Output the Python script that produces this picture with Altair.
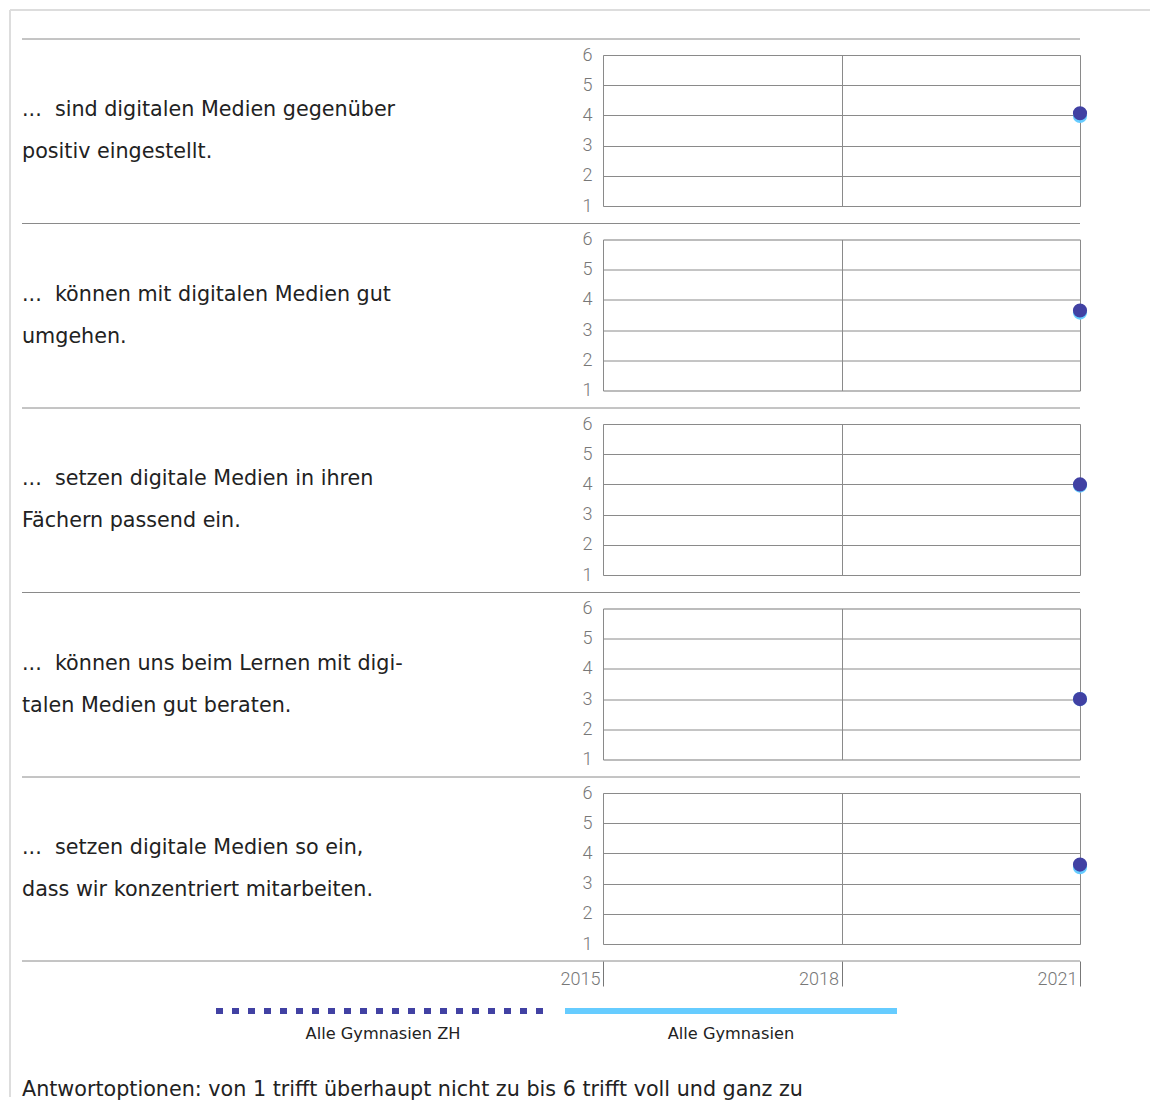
import altair as alt
import pandas as pd

# ---- data ----
row_labels = [
    "...\u00a0 sind digitalen Medien gegenüber\npositiv eingestellt.",
    "...\u00a0 können mit digitalen Medien gut\numgehen.",
    "...\u00a0 setzen digitale Medien in ihren\nFächern passend ein.",
    "...\u00a0 können uns beim Lernen mit digi-\ntalen Medien gut beraten.",
    "...\u00a0 setzen digitale Medien so ein,\ndass wir konzentriert mitarbeiten.",
]
year_ticks = [2015, 2018, 2021]
survey_year = 2021
zh_values = [4.07, 3.65, 4.0, 3.0, 3.63]      # Alle Gymnasien ZH
all_values = [3.98, 3.58, 3.96, 3.0, 3.54]    # Alle Gymnasien
series_names = ["Alle Gymnasien ZH", "Alle Gymnasien"]
series_colors = ["#4141A3", "#66CCFF"]
note = "Antwortoptionen: von 1 trifft überhaupt nicht zu bis 6 trifft voll und ganz zu"

FONT = "Roboto"
TFONT = "DejaVu Sans"
W, H = 477, 151
GRID = "#8a8a8a"
TXT = "#222222"

dummy = pd.DataFrame({"k": [0]})


def hrule(x1, x2, y, color=GRID, width=1, dash=None):
    kw = dict(color=color, strokeWidth=width)
    if dash:
        kw["strokeDash"] = dash
        kw["strokeCap"] = "butt"
    return alt.Chart(dummy).mark_rule(**kw).encode(
        x=alt.value(x1), x2=alt.value(x2), y=alt.value(y)
    )


def row_chart(i, last, first):
    pts = pd.DataFrame({
        "year": [survey_year, survey_year],
        "value": [all_values[i], zh_values[i]],
        "series": [series_names[1], series_names[0]],
        "ord": [0, 1],
    })
    if last:
        xaxis = alt.Axis(values=year_ticks, grid=True, gridColor=GRID, domain=False,
                         ticks=True, tickSize=25, tickColor="#777", offset=17,
                         labelAlign="right", labelBaseline="top", labelPadding=-16,
                         labelOffset=-3, labelFlush=False, labelFontSize=18,
                         labelColor="#777", labelFontWeight=300, title=None,
                         format="d")
    else:
        xaxis = alt.Axis(values=year_ticks, grid=True, gridColor=GRID, domain=False,
                         ticks=False, labels=False, title=None)
    yaxis = alt.Axis(values=[1, 2, 3, 4, 5, 6], grid=True, gridColor=GRID, domain=False,
                     ticks=False, labelPadding=11, labelFontSize=18, labelColor="#777",
                     labelFontWeight=300, title=None)
    points = alt.Chart(pts).mark_circle(size=200, opacity=1).encode(
        x=alt.X("year:Q", scale=alt.Scale(domain=[2015, 2021], nice=False, zero=False), axis=xaxis),
        y=alt.Y("value:Q", scale=alt.Scale(domain=[1, 6], nice=False, zero=False), axis=yaxis),
        color=alt.Color("series:N", scale=alt.Scale(domain=series_names, range=series_colors), legend=None),
        order=alt.Order("ord:Q"),
    )
    label = alt.Chart(pd.DataFrame({"t": [row_labels[i]]})).mark_text(
        align="left", baseline="middle", lineBreak="\n", lineHeight=42,
        fontSize=20.7, font=TFONT, color=TXT
    ).encode(x=alt.value(-581), y=alt.value(55), text="t:N")

    layers = [hrule(-581, W, -16), label, points]
    if first:
        layers += [
            hrule(-593, 547, -45, color="#dddddd", width=2),
            alt.Chart(dummy).mark_rule(color="#dddddd", strokeWidth=2).encode(
                x=alt.value(-593), y=alt.value(-45), y2=alt.value(1042)),
        ]
    if last:
        layers += [
            hrule(-581, W, H + 17),
            hrule(-387, -58, H + 67, color=series_colors[0], width=6, dash=[7, 9]),
            hrule(-38, 294, H + 67, color=series_colors[1], width=6),
            alt.Chart(pd.DataFrame({"t": [series_names[0]]})).mark_text(
                align="center", baseline="middle", fontSize=16.2, font=TFONT, color=TXT
            ).encode(x=alt.value(-220), y=alt.value(H + 90), text="t:N"),
            alt.Chart(pd.DataFrame({"t": [series_names[1]]})).mark_text(
                align="center", baseline="middle", fontSize=16.2, font=TFONT, color=TXT
            ).encode(x=alt.value(128), y=alt.value(H + 90), text="t:N"),
            alt.Chart(pd.DataFrame({"t": [note]})).mark_text(
                align="left", baseline="middle", fontSize=20.7, font=TFONT, color=TXT
            ).encode(x=alt.value(-581), y=alt.value(H + 146), text="t:N"),
        ]
    return alt.layer(*layers).properties(width=W, height=H)


rows = [row_chart(i, i == len(row_labels) - 1, i == 0) for i in range(len(row_labels))]

chart = alt.vconcat(*rows, spacing=33.5, bounds="flush").properties(
    padding=0
).configure_view(stroke="#777", strokeWidth=1).configure(font=FONT)

chart.save("out.html", embed_options={"renderer": "svg", "actions": False})
